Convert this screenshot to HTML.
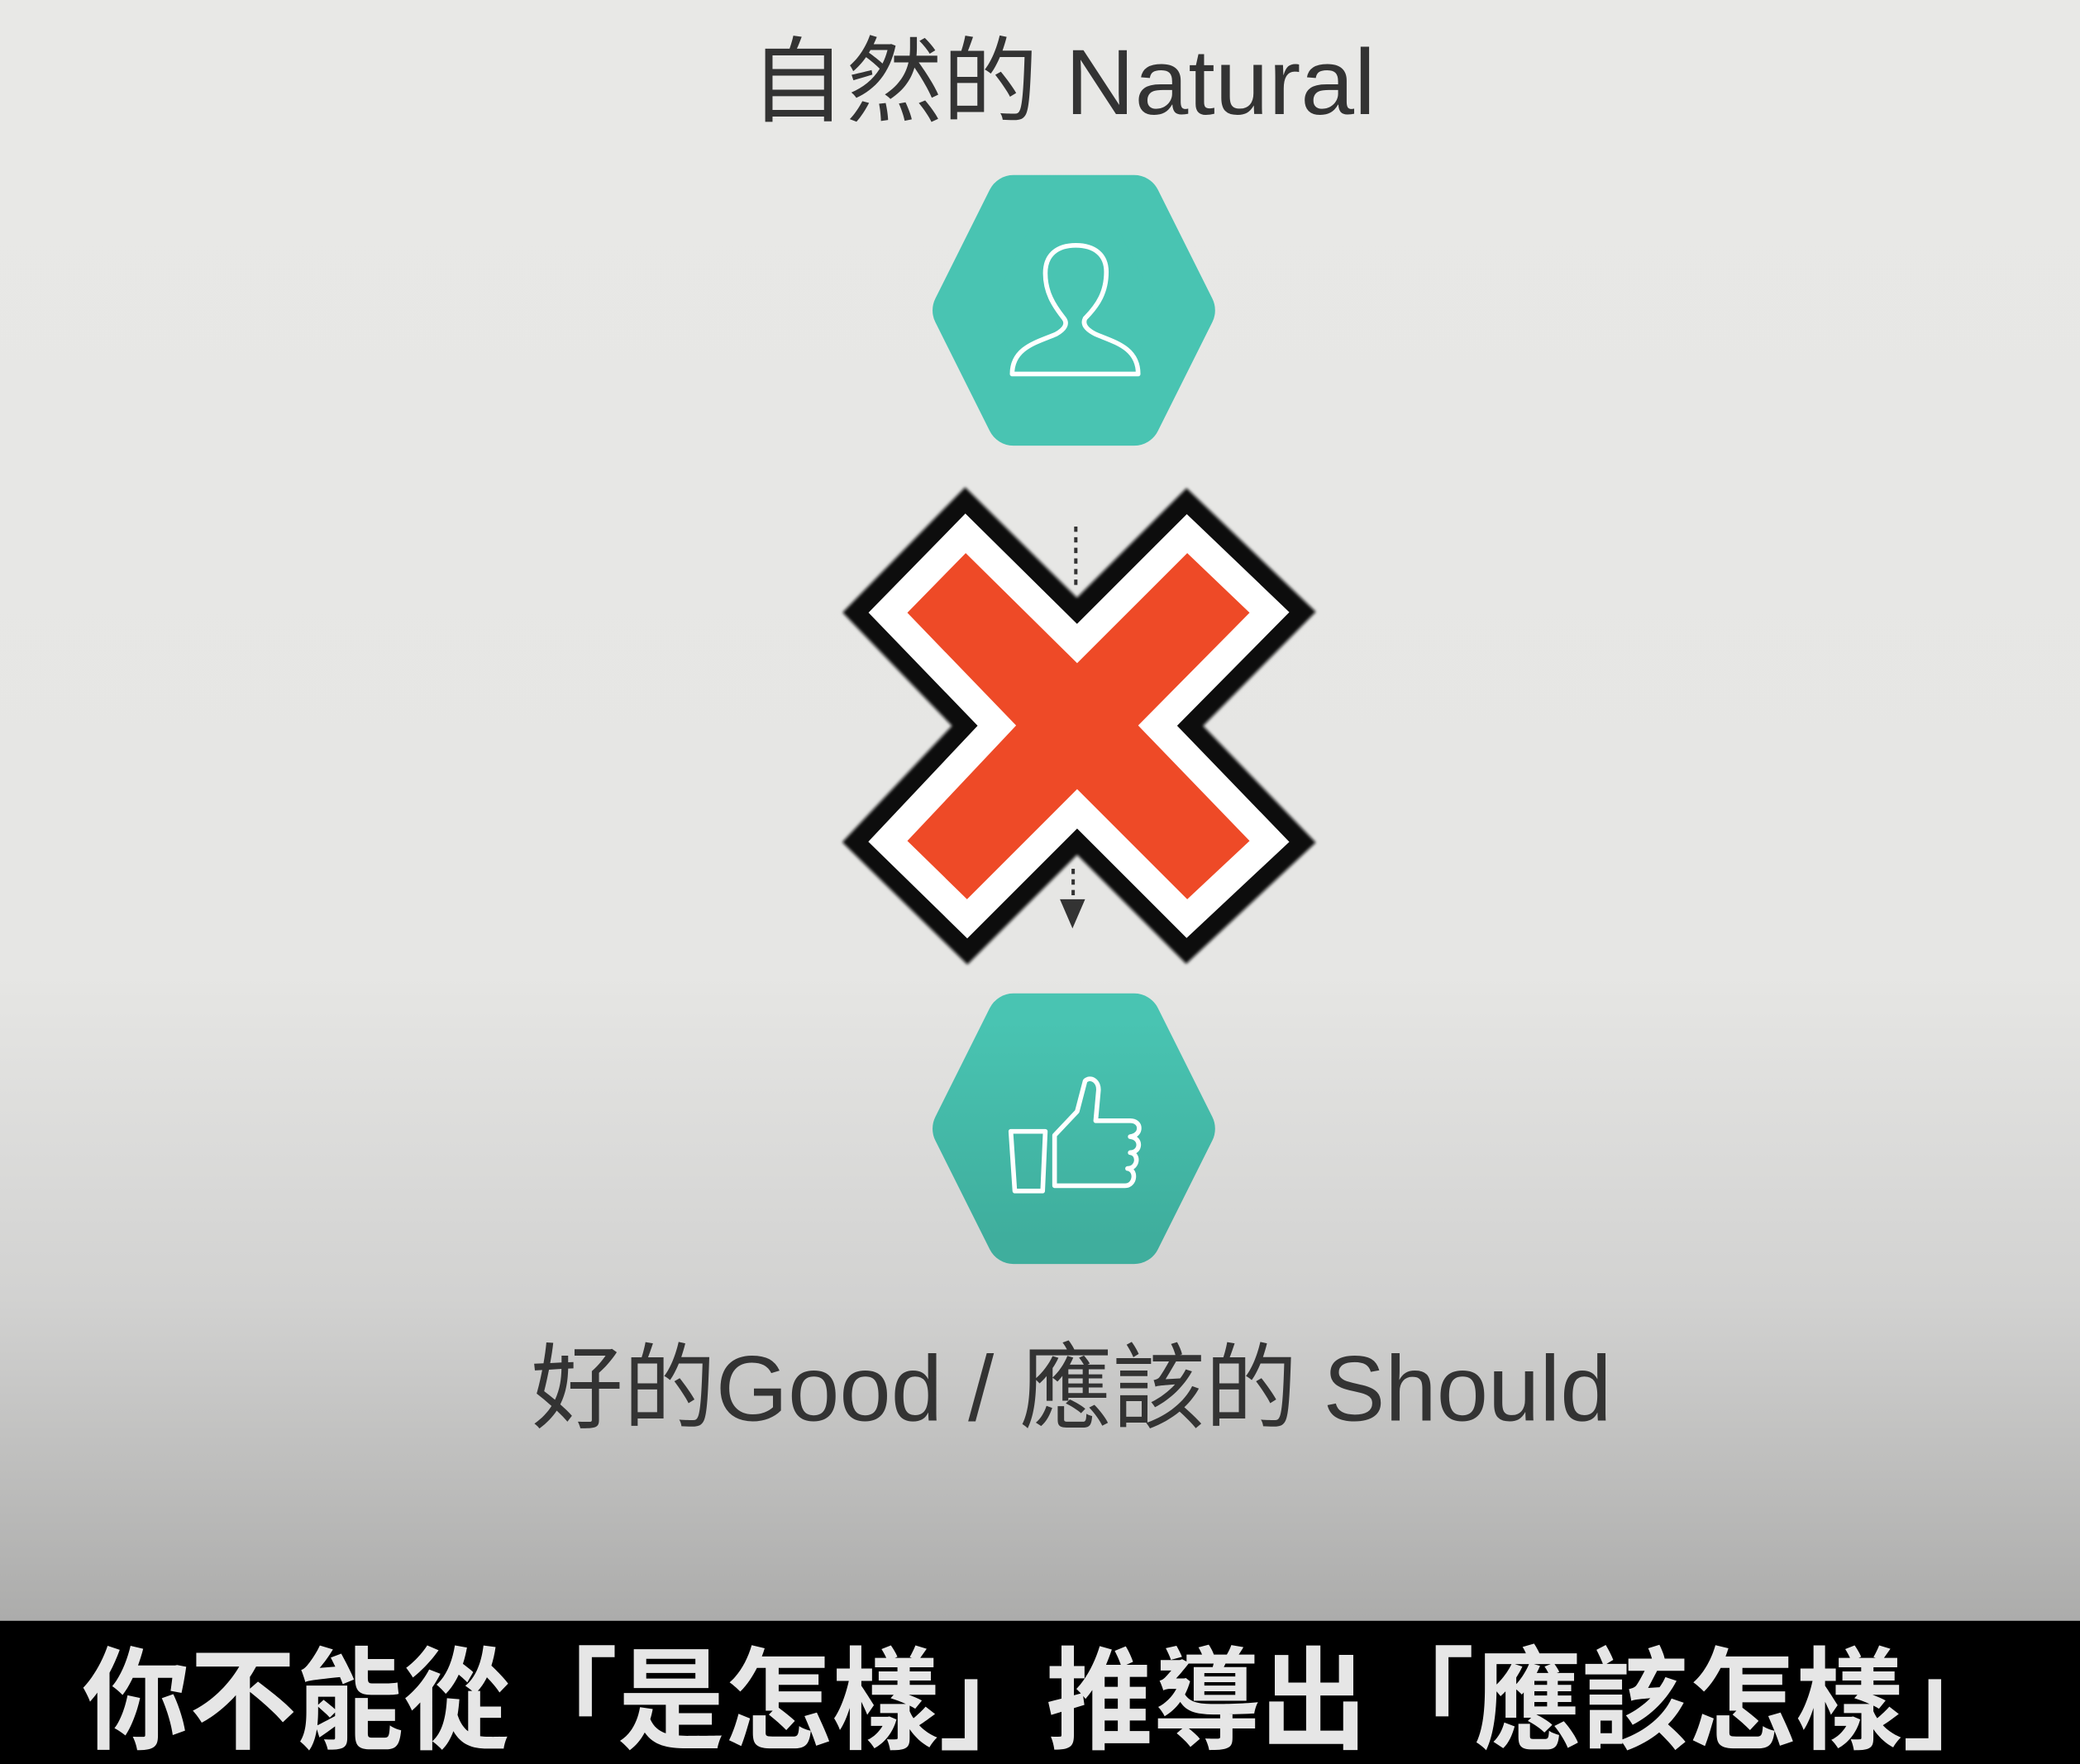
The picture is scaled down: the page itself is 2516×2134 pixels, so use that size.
<!DOCTYPE html>
<html><head><meta charset="utf-8">
<style>
html,body{margin:0;padding:0;}
body{width:2516px;height:2134px;overflow:hidden;}
svg{display:block;}
</style></head>
<body>
<svg width="2516" height="2134" viewBox="0 0 1568 1330" preserveAspectRatio="none" xmlns="http://www.w3.org/2000/svg">
<defs>
<linearGradient id="bg" x1="0" y1="0" x2="0" y2="1">
<stop offset="0" stop-color="#e8e8e6"/>
<stop offset="0.6" stop-color="#e6e6e4"/>
<stop offset="0.8" stop-color="#d2d2d1"/>
<stop offset="1" stop-color="#acacab"/>
</linearGradient>
<linearGradient id="hex2" x1="0" y1="0" x2="0" y2="1">
<stop offset="0" stop-color="#49c4b2"/>
<stop offset="1" stop-color="#3fae9d"/>
</linearGradient>
<filter id="soft" filterUnits="userSpaceOnUse" x="580" y="320" width="470" height="460"><feGaussianBlur stdDeviation="1.2"/></filter>
</defs>
<rect x="0" y="0" width="1568" height="1222" fill="url(#bg)"/>

<text x="801" y="86" text-anchor="middle" font-family="'Liberation Sans','Noto Sans CJK TC',sans-serif" font-size="70" fill="#333" textLength="472" lengthAdjust="spacingAndGlyphs">自然的  Natural</text>

<g>
<polygon points="723,234 764,152 855,152 896,234 855,316 764,316" fill="#49c4b2" stroke="#49c4b2" stroke-width="40" stroke-linejoin="round"/>
<path d="M763 282 L858 282 C858 262 840 258 826 252 C818 248 816 244 818 240 C828 230 834 220 834 205 C834 192 825 185 811 185 C797 185 788 192 788 206 C788 220 794 230 802 240 C805 244 803 248 796 252 C782 258 763 262 763 282 Z" fill="none" stroke="#fff" stroke-width="3.5" stroke-linejoin="round"/>
</g>

<g>
<polygon filter="url(#soft)" points="684,462 728,417 812,500 895,417 942,462 858,547 942,634 895,678 812,595 729,678 684,634 766,547" fill="#111" stroke="#111" stroke-width="70" stroke-linejoin="miter"/>
<polygon points="684,462 728,417 812,500 895,417 942,462 858,547 942,634 895,678 812,595 729,678 684,634 766,547" fill="#fff" stroke="#fff" stroke-width="42" stroke-linejoin="miter"/>
<polygon points="684,462 728,417 812,500 895,417 942,462 858,547 942,634 895,678 812,595 729,678 684,634 766,547" fill="#ee4a27"/>
</g>
<line x1="811" y1="397" x2="811" y2="444" stroke="#333" stroke-width="2.5" stroke-dasharray="4,4"/>
<line x1="809" y1="655" x2="809" y2="676" stroke="#333" stroke-width="2.5" stroke-dasharray="4,4"/>
<polygon points="799,678 818,678 808.5,700" fill="#333"/>

<g>
<polygon points="723,851 764,769 855,769 896,851 855,933 764,933" fill="url(#hex2)" stroke="url(#hex2)" stroke-width="40" stroke-linejoin="round"/>
<g fill="none" stroke="#fff" stroke-width="3.5" stroke-linejoin="round">
<path d="M762 853 L788 853 L786 898 L765 898 Z"/>
<path d="M795 856 L812 838 L818 815 C822 811 829 815 828 823 L826 845 L852 845 C861 845 861 856 852 857 C861 858 860 869 852 869 C859 870 858 881 850 881 C857 882 856 894 848 894 L795 894 Z"/>
</g>
</g>

<text x="400" y="1071" font-family="'Liberation Sans','Noto Sans CJK TC',sans-serif" font-size="70" fill="#333" textLength="815" lengthAdjust="spacingAndGlyphs">好的Good / 應該的 Should</text>

<rect x="0" y="1222" width="1568" height="108" fill="#000"/>
<text x="62" y="1283" dominant-baseline="central" font-family="'Liberation Sans','Noto Sans CJK TC',sans-serif" font-weight="bold" font-size="84" fill="#e6e6e6" textLength="1453" lengthAdjust="spacingAndGlyphs">你不能從「是怎樣」推導出「應該怎樣」</text>
</svg>
</body></html>
